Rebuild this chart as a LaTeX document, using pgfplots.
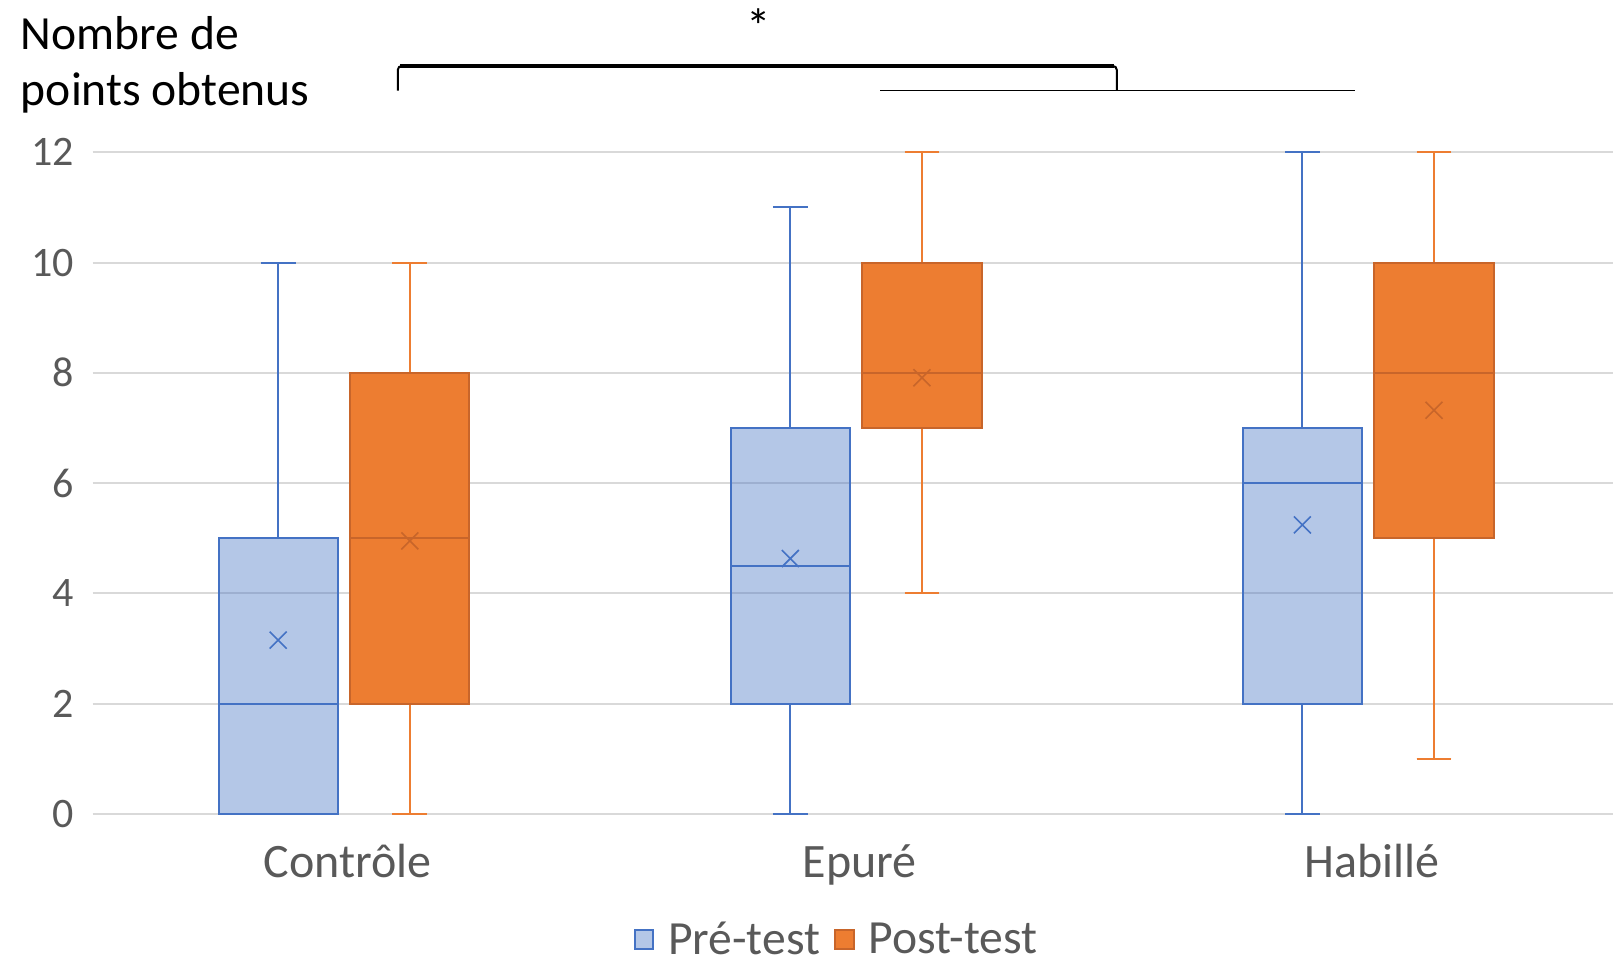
\documentclass[border=0pt]{standalone}
\usepackage{pgfplots}
\pgfplotsset{compat=1.18}
\usepgfplotslibrary{statistics}
\usepackage{fontspec}
\setmainfont{Carlito}
\definecolor{preblue}{HTML}{4472C4}
\definecolor{postor}{HTML}{ED7D31}
\definecolor{postdk}{HTML}{C8652A}
\definecolor{txtgray}{HTML}{595959}
\definecolor{gridgray}{HTML}{D9D9D9}
\begin{document}
\begin{tikzpicture}
\begin{axis}[
  scale only axis, width=760.2pt, height=330.7pt,
  xmin=-0.491, xmax=2.478, ymin=0, ymax=12,
  clip=false,
  axis line style={draw=none},
  major tick length=0pt,
  ymajorgrids, grid style={gridgray, line width=1pt},
  ytick={0,2,4,6,8,10,12},
  xtick={0,1,2}, xticklabels={Contrôle, Epuré, Habillé},
  /pgf/number format/assume math mode=true,
  yticklabel style={font=\fontsize{21pt}{25pt}\selectfont, text=txtgray, anchor=east, inner sep=0pt, xshift=-9.3pt},
  xticklabel style={font=\fontsize{24pt}{28pt}\selectfont, text=txtgray, anchor=base, inner sep=0pt, yshift=-32pt, xshift=1.8pt},
  legend style={at={(axis description cs:0.49,-0.19)}, anchor=center, draw=none, fill=none,
    font=\fontsize{23.8pt}{28pt}\selectfont, text=txtgray,
    /tikz/every even column/.append style={column sep=5pt}},
  legend columns=2,
  boxplot/draw direction=y,
]
% Pre-test boxes
\addplot[forget plot, preblue, line width=1pt, fill=preblue, fill opacity=0.4,
  boxplot prepared={draw position=-0.1285, lower whisker=0, lower quartile=0, median=2, upper quartile=5, upper whisker=10, box extend=0.233, whisker extend=0.068}] coordinates {};
\addplot[forget plot, preblue, line width=1pt, fill=preblue, fill opacity=0.4,
  boxplot prepared={draw position=0.8715, lower whisker=0, lower quartile=2, median=4.5, upper quartile=7, upper whisker=11, box extend=0.233, whisker extend=0.068}] coordinates {};
\addplot[forget plot, preblue, line width=1pt, fill=preblue, fill opacity=0.4,
  boxplot prepared={draw position=1.8715, lower whisker=0, lower quartile=2, median=6, upper quartile=7, upper whisker=12, box extend=0.233, whisker extend=0.068}] coordinates {};
% Post-test boxes
\addplot[forget plot, postdk, line width=1pt, fill=postor,
  boxplot prepared={draw position=0.1285, lower whisker=0, lower quartile=2, median=5, upper quartile=8, upper whisker=10, box extend=0.233, whisker extend=0.068, every whisker/.style={draw=postor}}] coordinates {};
\addplot[forget plot, postdk, line width=1pt, fill=postor,
  boxplot prepared={draw position=1.1285, lower whisker=4, lower quartile=7, median=8, upper quartile=10, upper whisker=12, box extend=0.233, whisker extend=0.068, every whisker/.style={draw=postor}}] coordinates {};
\addplot[forget plot, postdk, line width=1pt, fill=postor,
  boxplot prepared={draw position=2.1285, lower whisker=1, lower quartile=5, median=8, upper quartile=10, upper whisker=12, box extend=0.233, whisker extend=0.068, every whisker/.style={draw=postor}}] coordinates {};
% Means
\addplot[forget plot, only marks, mark=x, mark size=6pt, preblue, line width=0.8pt] coordinates {(-0.1285,3.15) (0.8715,4.63) (1.8715,5.24)};
\addplot[forget plot, only marks, mark=x, mark size=6pt, postdk, line width=0.8pt] coordinates {(0.1285,4.95) (1.1285,7.91) (2.1285,7.32)};
% Legend
\addlegendimage{legend image code/.code={\draw[preblue, line width=1pt, fill=preblue!40] (0pt,-4.6pt) rectangle (9.25pt,4.6pt); \path (14.5pt,0pt);}}
\addlegendentry{Pré-test}
\addlegendimage{legend image code/.code={\draw[postdk, line width=1pt, fill=postor] (0pt,-4.6pt) rectangle (9.25pt,4.6pt); \path (14.5pt,0pt);}}
\addlegendentry{Post-test}
% Annotations
\node[anchor=base west, inner sep=0pt, font=\fontsize{23.8pt}{28pt}\selectfont] at (rel axis cs:-0.0474,1.1562) {Nombre de};
\node[anchor=base west, inner sep=0pt, font=\fontsize{23.8pt}{28pt}\selectfont] at (rel axis cs:-0.0474,1.0715) {points obtenus};
\draw[black, line width=1pt, rounded corners=2pt] (axis cs:0.105,13.12) -- (axis cs:0.105,13.568) -- (axis cs:1.509,13.568) -- (axis cs:1.509,13.12);
\draw[black, line width=2pt] (axis cs:0.11,13.568) -- (axis cs:1.504,13.568);
\draw[black, line width=0.75pt] (axis cs:1.047,13.12) -- (axis cs:1.975,13.12);
\node[anchor=base, inner sep=0pt, font=\fontsize{24.5pt}{28pt}\selectfont] at (axis cs:0.81,13.97) {*};
\coordinate (BL) at (rel axis cs:-0.0609,-0.2303);
\coordinate (TR) at (rel axis cs:1,1.2303);
\end{axis}
\pgfresetboundingbox
\useasboundingbox (BL) rectangle (TR);
\end{tikzpicture}
\end{document}
